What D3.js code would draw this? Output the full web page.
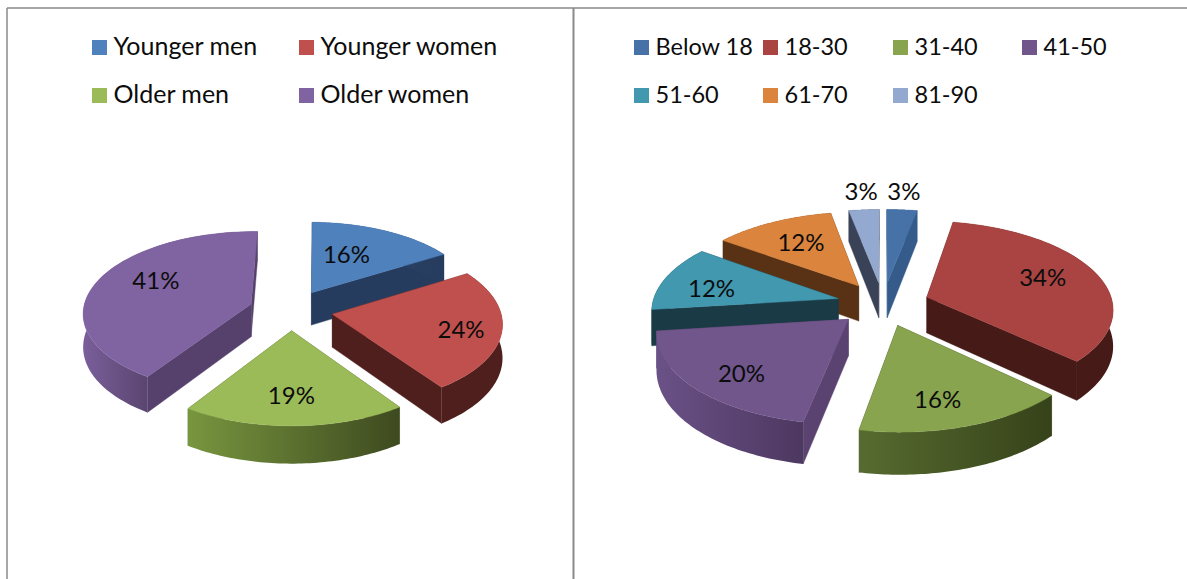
<!DOCTYPE html>
<html><head><meta charset="utf-8">
<script src="https://cdn.jsdelivr.net/npm/d3@7/dist/d3.min.js"></script>
<style>html,body{margin:0;padding:0;background:#fff}svg{display:block}text{font-family:Lato,"Open Sans",sans-serif;fill:#0c0c0c}</style>
</head><body><div id="chart"></div>
<script>
// ---- data ----
const genderCategories = ["Younger men","Younger women","Older men","Older women"];
const genderValues = [16,24,19,41];
const ageCategories = ["Below 18","18-30","31-40","41-50","51-60","61-70","81-90"];
const ageValues = [3,34,16,20,12,12,3];

// ---- styles ----
const genderTop   = ["#4f81bd","#c0504d","#9bbb59","#8064a2"];
const genderCut   = ["#263c5e","#4f1f1d","#4a5a2a","#55416c"];
const genderLight = ["#2e4a72","#4f1f1d","#78963f","#7a5f9a"];
const genderDark  = ["#263c5e","#4f1f1d","#3e4a1f","#5a4570"];
const ageTop   = ["#4672a8","#a94442","#88a44e","#71568c","#4198af","#db843d","#93a9cf"];
const ageCut   = ["#345b8a","#451a17","#364219","#5a4370","#1a3a46","#593215","#3a4257"];
const ageLight = ["#345b8a","#451a17","#576b30","#6a5187","#1a3a46","#593215","#3a4257"];
const ageDark  = ["#345b8a","#451a17","#364219","#4d3860","#1a3a46","#593215","#3a4257"];
const genderLabelR = [0.55,0.78,0.68,0.62];
const ageLabelR    = [1.22,0.66,0.76,0.78,0.70,0.60,1.22];
const genderNudge = [[-7,-1],[-3,4],[-2,5],[1,-7]];
const ageNudge    = [[-1,-2],[4,0],[-11,2],[11,4],[-5,7],[-4,-1],[0,-2]];

const W=1187,H=579;
const svg=d3.select("#chart").append("svg").attr("width",W).attr("height",H);
const defs=svg.append("defs");
const frame=svg.append("g").attr("stroke","#8a8a8a").attr("fill","none");
frame.append("line").attr("x1",7).attr("x2",W).attr("y1",8).attr("y2",8).attr("stroke-width",1.5);
frame.append("line").attr("x1",7).attr("x2",7).attr("y1",8).attr("y2",H).attr("stroke-width",1.5);
frame.append("line").attr("x1",573.5).attr("x2",573.5).attr("y1",8).attr("y2",H).attr("stroke-width",2);

function drawPie(id,vals,cats,cfg){
  const top=d3.scaleOrdinal(cats,cfg.top), cut=d3.scaleOrdinal(cats,cfg.cut);
  const arcs=d3.pie().sort(null).startAngle(cfg.rot).endAngle(cfg.rot+2*Math.PI)(vals)
    .map((a,i)=>({...a,cat:cats[i],i,mid:(a.startAngle+a.endAngle)/2}));
  const proj=(th,r,m)=>{
    const x=r*Math.sin(th)+cfg.e*Math.sin(m), z=r*Math.cos(th)+cfg.e*Math.cos(m);
    const sx=1/(1+cfg.px*z), s=1/(1+cfg.py*z);
    return [cfg.cx+x*sx*cfg.rx, cfg.cy-z*s*cfg.ry, s];
  };
  const line=d3.line();
  const down=p=>[p[0],p[1]+cfg.h*p[2]];
  const g=svg.append("g");
  const order=arcs.slice().sort((a,b)=>Math.cos(b.mid)-Math.cos(a.mid));
  order.forEach(a=>{
    const th=d3.range(0,61).map(k=>a.startAngle+(a.endAngle-a.startAngle)*k/60);
    const rim=th.map(t=>proj(t,1,a.mid));
    const apex=proj(0,0,a.mid);
    const sg=g.append("g");
    [rim[0],rim[rim.length-1]].forEach(e=>{
      sg.append("path").attr("d",line([apex,e,down(e),down(apex)].map(p=>p.slice(0,2)))+"Z")
        .attr("fill",cut(a.cat)).attr("stroke",cut(a.cat)).attr("stroke-width",.4);
    });
    const gid=`${id}-g${a.i}`;
    const front=rim.filter((p,k)=>Math.cos(th[k])<0.1);
    const ext=d3.extent(front.length?front:rim,p=>p[0]);
    const gr=defs.append("linearGradient").attr("id",gid).attr("gradientUnits","userSpaceOnUse")
      .attr("x1",ext[0]).attr("x2",ext[1]).attr("y1",0).attr("y2",0);
    gr.append("stop").attr("offset",0).attr("stop-color",cfg.light[a.i]);
    gr.append("stop").attr("offset",1).attr("stop-color",cfg.dark[a.i]);
    const wall=rim.concat(rim.slice().reverse().map(down)).map(p=>p.slice(0,2));
    sg.append("path").attr("d",line(wall)+"Z").attr("fill",`url(#${gid})`);
    const face=[apex].concat(rim).map(p=>p.slice(0,2));
    sg.append("path").attr("d",line(face)+"Z").attr("fill",top(a.cat))
      .attr("stroke",top(a.cat)).attr("stroke-width",.4);
  });
  arcs.forEach(a=>{
    const p=proj(a.mid,cfg.labelR[a.i],a.mid);
    g.append("text").attr("x",p[0]+cfg.nudge[a.i][0]).attr("y",p[1]+cfg.nudge[a.i][1])
      .attr("text-anchor","middle").attr("dominant-baseline","middle")
      .attr("font-size",cfg.labelSize).text(a.value+"%");
  });
  const lg=svg.append("g");
  cats.forEach((c,i)=>{
    const col=cfg.legendX[i%cfg.legendX.length], row=Math.floor(i/cfg.legendX.length);
    const y=cfg.legendY[row];
    lg.append("rect").attr("x",col).attr("y",y).attr("width",15).attr("height",15).attr("fill",top(c));
    lg.append("text").attr("x",col+cfg.legendGap).attr("y",y+15).attr("font-size",cfg.legendSize).text(c);
  });
}
drawPie("gender",genderValues,genderCategories,{
  cx:291,cy:310,rx:168,ry:81,px:0.1,py:0.101,e:0.25,h:33,rot:1*Math.PI/180,
  top:genderTop,cut:genderCut,light:genderLight,dark:genderDark,
  labelR:genderLabelR,nudge:genderNudge,labelSize:24,
  legendX:[92,299],legendY:[40,88],legendGap:21.5,legendSize:25
});
drawPie("age",ageValues,ageCategories,{
  cx:883,cy:304,rx:186,ry:87.5,px:0.12,py:0.125,e:0.25,h:36,rot:0,
  top:ageTop,cut:ageCut,light:ageLight,dark:ageDark,
  labelR:ageLabelR,nudge:ageNudge,labelSize:24,
  legendX:[634,763,893,1022],legendY:[40,88],legendGap:21.5,legendSize:23.5
});
</script></body></html>
